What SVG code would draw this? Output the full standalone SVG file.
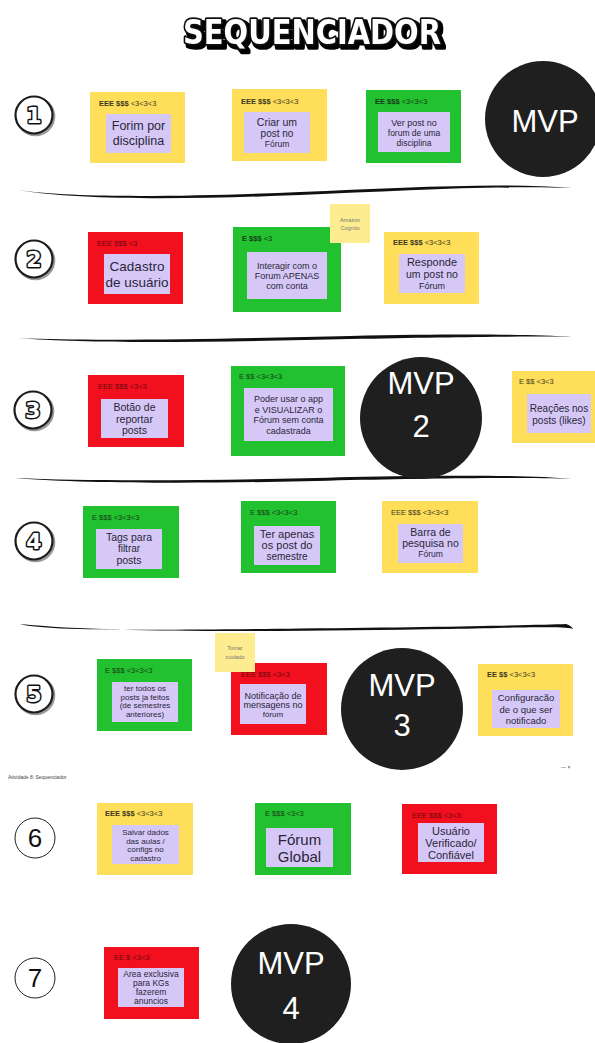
<svg xmlns="http://www.w3.org/2000/svg" width="595" height="1043" viewBox="0 0 595 1043">
  <defs>
    <!-- solid offset shadow for the cartoon heading -->
    <filter id="drop" x="-10%" y="-30%" width="120%" height="160%">
      <feOffset in="SourceAlpha" dx="2.5" dy="2.5" result="off"/>
      <feMorphology in="off" operator="dilate" radius="1" result="fat"/>
      <feMerge>
        <feMergeNode in="fat"/>
        <feMergeNode in="SourceGraphic"/>
      </feMerge>
    </filter>
  </defs>
  <style>
    .y { fill: #FFDE59; }
    .g { fill: #21C130; }
    .r { fill: #F20F1E; }
    .lav { fill: #D5C8F7; }
    .memo { fill: #FEEC90; }
    .memo-t { font-family: "Liberation Sans", Arial, sans-serif; font-size: 5.5px; fill: #777; text-anchor: middle; }
    .lbl { font-family: "Liberation Sans", Arial, sans-serif; font-size: 7.5px; fill: #3d3a22; }
    .lbl-g { fill: #173d17; }
    .lbl-r { fill: #6e0810; }
    .b { font-weight: bold; }
    .t { font-family: "Liberation Sans", Arial, sans-serif; fill: #2a2638; text-anchor: middle; }
    .mvp-c { fill: #1f1f1f; }
    .mvp-t { font-family: "Liberation Sans", Arial, sans-serif; font-size: 31px; fill: #ffffff; text-anchor: middle; }
    .badge { fill: #ffffff; stroke: #1c1c1c; stroke-width: 2.2; }
    .badge-sh { fill: none; stroke: #9a9a9a; stroke-width: 2.6; }
    .badge-n { font-family: "DejaVu Sans", sans-serif; font-weight: bold; font-size: 22px; fill: #ffffff; stroke: #111; stroke-width: 3; paint-order: stroke; stroke-linejoin: round; text-anchor: middle; }
    .plain { fill: #ffffff; stroke: #222; stroke-width: 1; }
    .plain-n { font-family: "Liberation Sans", Arial, sans-serif; font-size: 26px; fill: #111; text-anchor: middle; }
    .title { font-family: "DejaVu Sans", sans-serif; font-weight: bold; font-size: 33px; text-anchor: middle; stroke-linejoin: round; fill: #fff; stroke: #111; stroke-width: 3.6; paint-order: stroke; }
    .rule { fill: #111; }
    .tiny { font-family: "Liberation Sans", Arial, sans-serif; font-size: 5px; fill: #444; }
  </style>

  <rect width="595" height="1043" fill="#ffffff"/>

  <!-- heading -->
  <g id="title" filter="url(#drop)">
    <text x="312" y="44" class="title" textLength="258" lengthAdjust="spacingAndGlyphs">SEQUENCIADOR</text>
  </g>

  <!-- brush-stroke separators between rows -->
  <g id="dividers">
    <path class="rule" d="M18,190 C80,199 200,196 300,192 C400,188 500,182 572,188 C500,185 400,191 300,195 C200,199 80,201 18,190 Z"/>
    <path class="rule" d="M18,338 C100,342 250,338 350,336 C450,334 530,334 572,337 C530,336 450,337 350,339 C250,341 100,345 18,338 Z"/>
    <path class="rule" d="M15,478 C100,482 250,480 350,477 C450,475 530,475 572,479 C530,477 450,478 350,480 C250,483 100,485 15,478 Z"/>
    <path class="rule" d="M20,624 C40,630 120,631 300,628.5 C450,627 540,625 566,624 C570,625 572,627 573,629 C568,626.5 540,627 450,629 C300,631 120,634 20,624 Z"/>
  </g>

  <!-- row 1 -->
  <g id="step-1">
    <circle cx="35.5" cy="116.5" r="18.5" class="badge-sh"/>
    <circle cx="34" cy="115" r="18.5" class="badge"/>
    <text x="34" y="123" class="badge-n">1</text>
  </g>
  <g id="note-forum-disciplina">
    <rect x="90" y="92" width="95" height="71" class="y"/>
    <text x="99" y="106" class="lbl"><tspan class="b">EEE $$$</tspan> &lt;3&lt;3&lt;3</text>
    <rect x="106" y="114" width="65" height="39" class="lav"/>
    <text x="138.5" y="130" class="t" font-size="12.5">Forim por</text>
    <text x="138.5" y="145" class="t" font-size="12.5">disciplina</text>
  </g>
  <g id="note-criar-post">
    <rect x="232" y="89" width="95" height="72" class="y"/>
    <text x="241" y="104" class="lbl"><tspan class="b">EEE $$$</tspan> &lt;3&lt;3&lt;3</text>
    <rect x="244" y="112" width="66" height="41" class="lav"/>
    <text x="277" y="126" class="t" font-size="10.5">Criar um</text>
    <text x="277" y="137" class="t" font-size="10">post no</text>
    <text x="277" y="147" class="t" font-size="8.5">Fórum</text>
  </g>
  <g id="note-ver-post">
    <rect x="366" y="90" width="95" height="73" class="g"/>
    <text x="375" y="104" class="lbl lbl-g"><tspan class="b">EE $$$</tspan> &lt;3&lt;3&lt;3</text>
    <rect x="378" y="112" width="72" height="40" class="lav"/>
    <text x="414" y="126" class="t" font-size="9">Ver post no</text>
    <text x="414" y="136" class="t" font-size="8.5">forum de uma</text>
    <text x="414" y="146" class="t" font-size="8.5">disciplina</text>
  </g>
  <g id="mvp-1">
    <circle cx="543" cy="119" r="58" class="mvp-c"/>
    <text x="545" y="132" class="mvp-t">MVP</text>
  </g>

  <!-- row 2 -->
  <g id="step-2">
    <circle cx="35.5" cy="260.5" r="18.5" class="badge-sh"/>
    <circle cx="34" cy="259" r="18.5" class="badge"/>
    <text x="34" y="267" class="badge-n">2</text>
  </g>
  <g id="note-cadastro">
    <rect x="88" y="232" width="95" height="72" class="r"/>
    <text x="97" y="246" class="lbl lbl-r">EEE $$$ &lt;3</text>
    <rect x="104" y="254" width="66" height="40" class="lav"/>
    <text x="137" y="271" class="t" font-size="13.5">Cadastro</text>
    <text x="137" y="287" class="t" font-size="13.5">de usuário</text>
  </g>
  <g id="note-interagir">
    <rect x="233" y="227" width="108" height="85" class="g"/>
    <text x="242" y="241" class="lbl lbl-g"><tspan class="b">E $$$</tspan> &lt;3</text>
    <rect x="247" y="252" width="80" height="47" class="lav"/>
    <text x="287" y="269" class="t" font-size="9">Interagir com o</text>
    <text x="287" y="279" class="t" font-size="9">Forum APENAS</text>
    <text x="287" y="289" class="t" font-size="9">com conta</text>
  </g>
  <g id="memo-cognito">
    <rect x="330" y="204" width="40" height="39" class="memo"/>
    <text x="350" y="222" class="memo-t">Amazon</text>
    <text x="350" y="230" class="memo-t">Cognito</text>
  </g>
  <g id="note-responde">
    <rect x="384" y="232" width="95" height="72" class="y"/>
    <text x="393" y="245" class="lbl"><tspan class="b">EEE $$$</tspan> &lt;3&lt;3&lt;3</text>
    <rect x="399" y="254" width="66" height="39" class="lav"/>
    <text x="432" y="266" class="t" font-size="11">Responde</text>
    <text x="432" y="278" class="t" font-size="10.5">um post no</text>
    <text x="432" y="289" class="t" font-size="9">Fórum</text>
  </g>

  <!-- row 3 -->
  <g id="step-3">
    <circle cx="34.5" cy="411.5" r="18.5" class="badge-sh"/>
    <circle cx="33" cy="410" r="18.5" class="badge"/>
    <text x="33" y="418" class="badge-n">3</text>
  </g>
  <g id="note-reportar">
    <rect x="88" y="375" width="96" height="72" class="r"/>
    <text x="98" y="389" class="lbl lbl-r">EEE $$$ &lt;3&lt;3</text>
    <rect x="101" y="399" width="67" height="39" class="lav"/>
    <text x="134.5" y="411" class="t" font-size="10.5">Botão de</text>
    <text x="134.5" y="422.5" class="t" font-size="10.5">reportar</text>
    <text x="134.5" y="434" class="t" font-size="10.5">posts</text>
  </g>
  <g id="note-visualizar">
    <rect x="231" y="366" width="114" height="90" class="g"/>
    <text x="239" y="379" class="lbl lbl-g">E $$ &lt;3&lt;3&lt;3</text>
    <rect x="244" y="388" width="89" height="53" class="lav"/>
    <text x="288.5" y="402" class="t" font-size="9">Poder usar o app</text>
    <text x="288.5" y="412.5" class="t" font-size="9">e VISUALIZAR o</text>
    <text x="288.5" y="423" class="t" font-size="9">Fórum sem conta</text>
    <text x="288.5" y="433.5" class="t" font-size="9">cadastrada</text>
  </g>
  <g id="mvp-2">
    <circle cx="421" cy="418" r="61" class="mvp-c"/>
    <text x="421" y="394" class="mvp-t">MVP</text>
    <text x="421" y="437" class="mvp-t">2</text>
  </g>
  <g id="note-reacoes">
    <rect x="512" y="371" width="83" height="72" class="y"/>
    <text x="519" y="384" class="lbl">E $$ &lt;3&lt;3</text>
    <rect x="527" y="394" width="64" height="39" class="lav"/>
    <text x="559" y="412" class="t" font-size="10">Reações nos</text>
    <text x="559" y="424" class="t" font-size="10">posts (likes)</text>
  </g>

  <!-- row 4 -->
  <g id="step-4">
    <circle cx="35.5" cy="542.5" r="18.5" class="badge-sh"/>
    <circle cx="34" cy="541" r="18.5" class="badge"/>
    <text x="34" y="549" class="badge-n">4</text>
  </g>
  <g id="note-tags">
    <rect x="83" y="506" width="96" height="72" class="g"/>
    <text x="92" y="520" class="lbl lbl-g">E $$$ &lt;3&lt;3&lt;3</text>
    <rect x="96" y="529" width="66" height="40" class="lav"/>
    <text x="129" y="541" class="t" font-size="10.5">Tags para</text>
    <text x="129" y="552" class="t" font-size="10">filtrar</text>
    <text x="129" y="564" class="t" font-size="10.5">posts</text>
  </g>
  <g id="note-semestre">
    <rect x="241" y="501" width="95" height="72" class="g"/>
    <text x="250" y="515" class="lbl lbl-g">E $$$ &lt;3&lt;3&lt;3</text>
    <rect x="254" y="526" width="66" height="39" class="lav"/>
    <text x="287" y="538" class="t" font-size="11">Ter apenas</text>
    <text x="287" y="549" class="t" font-size="11">os post do</text>
    <text x="287" y="560" class="t" font-size="10">semestre</text>
  </g>
  <g id="note-pesquisa">
    <rect x="382" y="501" width="96" height="72" class="y"/>
    <text x="391" y="515" class="lbl">EEE $$$ &lt;3&lt;3&lt;3</text>
    <rect x="398" y="524" width="65" height="39" class="lav"/>
    <text x="430.5" y="536" class="t" font-size="10.5">Barra de</text>
    <text x="430.5" y="547" class="t" font-size="10.5">pesquisa no</text>
    <text x="430.5" y="557" class="t" font-size="8.5">Fórum</text>
  </g>

  <!-- row 5 -->
  <g id="step-5">
    <circle cx="35.5" cy="695.5" r="18.5" class="badge-sh"/>
    <circle cx="34" cy="694" r="18.5" class="badge"/>
    <text x="34" y="702" class="badge-n">5</text>
  </g>
  <g id="note-anteriores">
    <rect x="97" y="659" width="95" height="72" class="g"/>
    <text x="105" y="673" class="lbl lbl-g">E $$$ &lt;3&lt;3&lt;3</text>
    <rect x="112" y="682" width="66" height="40" class="lav"/>
    <text x="145" y="691" class="t" font-size="8">ter todos os</text>
    <text x="145" y="699.5" class="t" font-size="8">posts ja feitos</text>
    <text x="145" y="708" class="t" font-size="8">(de semestres</text>
    <text x="145" y="716.5" class="t" font-size="8">anteriores)</text>
  </g>
  <g id="note-notificacao">
    <rect x="231" y="663" width="96" height="72" class="r"/>
    <text x="241" y="677" class="lbl lbl-r">EEE $$$ &lt;3&lt;3</text>
    <rect x="240" y="684" width="66" height="40" class="lav"/>
    <text x="273" y="699" class="t" font-size="9">Notificação de</text>
    <text x="273" y="708" class="t" font-size="9">mensagens no</text>
    <text x="273" y="717" class="t" font-size="8">fórum</text>
  </g>
  <g id="memo-cuidado">
    <rect x="215" y="633" width="40" height="39" class="memo"/>
    <text x="235" y="650" class="memo-t">Tomar</text>
    <text x="235" y="659" class="memo-t">cuidado</text>
  </g>
  <g id="mvp-3">
    <circle cx="402" cy="709" r="61" class="mvp-c"/>
    <text x="402" y="696" class="mvp-t">MVP</text>
    <text x="402" y="736" class="mvp-t">3</text>
  </g>
  <g id="note-configuracao">
    <rect x="478" y="664" width="95" height="72" class="y"/>
    <text x="487" y="677" class="lbl"><tspan class="b">EE $$</tspan> &lt;3&lt;3&lt;3</text>
    <rect x="492" y="690" width="68" height="38" class="lav"/>
    <text x="526" y="701" class="t" font-size="9.5">Configuracão</text>
    <text x="526" y="713" class="t" font-size="9.5">de o que ser</text>
    <text x="526" y="724" class="t" font-size="9.5">notificado</text>
  </g>

  <!-- board caption strip -->
  <g id="caption">
    <text x="8" y="779" class="tiny">Atividade 8: Sequenciador</text>
    <text x="561" y="769" class="tiny">— ×</text>
  </g>

  <!-- row 6 -->
  <g id="step-6">
    <circle cx="35" cy="838" r="20" class="plain"/>
    <text x="35" y="847" class="plain-n">6</text>
  </g>
  <g id="note-salvar">
    <rect x="97" y="803" width="96" height="72" class="y"/>
    <text x="105" y="816" class="lbl"><tspan class="b">EEE $$$</tspan> &lt;3&lt;3&lt;3</text>
    <rect x="112" y="825" width="67" height="39" class="lav"/>
    <text x="145.5" y="835" class="t" font-size="8">Salvar dados</text>
    <text x="145.5" y="843.5" class="t" font-size="8">das aulas /</text>
    <text x="145.5" y="852" class="t" font-size="8">configs no</text>
    <text x="145.5" y="860.5" class="t" font-size="8">cadastro</text>
  </g>
  <g id="note-global">
    <rect x="255" y="803" width="96" height="72" class="g"/>
    <text x="265" y="816" class="lbl lbl-g">E $$$ &lt;3&lt;3</text>
    <rect x="266" y="828" width="67" height="39" class="lav"/>
    <text x="299.5" y="845" class="t" font-size="15">Fórum</text>
    <text x="299.5" y="862" class="t" font-size="15">Global</text>
  </g>
  <g id="note-verificado">
    <rect x="402" y="804" width="95" height="70" class="r"/>
    <text x="412" y="818" class="lbl lbl-r">EEE $$$ &lt;3&lt;3</text>
    <rect x="418" y="823" width="66" height="39" class="lav"/>
    <text x="451" y="835" class="t" font-size="11">Usuário</text>
    <text x="451" y="847" class="t" font-size="11">Verificado/</text>
    <text x="451" y="859" class="t" font-size="11">Confiável</text>
  </g>

  <!-- row 7 -->
  <g id="step-7">
    <circle cx="35" cy="978" r="20" class="plain"/>
    <text x="35" y="987" class="plain-n">7</text>
  </g>
  <g id="note-anuncios">
    <rect x="104" y="947" width="95" height="72" class="r"/>
    <text x="114" y="960" class="lbl lbl-r">EE $ &lt;3&lt;3</text>
    <rect x="118" y="968" width="66" height="39" class="lav"/>
    <text x="151" y="977" class="t" font-size="8.5">Area exclusiva</text>
    <text x="151" y="986" class="t" font-size="8.5">para KGs</text>
    <text x="151" y="995" class="t" font-size="8.5">fazerem</text>
    <text x="151" y="1004" class="t" font-size="8.5">anuncios</text>
  </g>
  <g id="mvp-4">
    <circle cx="291" cy="984" r="60" class="mvp-c"/>
    <text x="291" y="974" class="mvp-t">MVP</text>
    <text x="291" y="1019" class="mvp-t">4</text>
  </g>
</svg>
